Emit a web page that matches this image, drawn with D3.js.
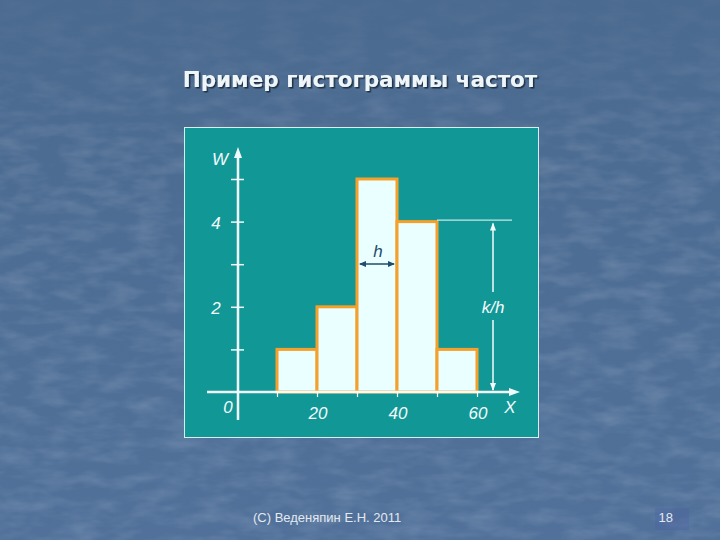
<!DOCTYPE html>
<html>
<head>
  <meta charset="utf-8">
  <script src="https://cdnjs.cloudflare.com/ajax/libs/d3/7.8.5/d3.min.js"></script>
  <title>histogram</title>
  <style>
    body { margin: 0; background: #4d6c91; }
  </style>
</head>
<body>
<script>
// data
var binEdges = [10, 20, 30, 40, 50, 60];
var freqs = [1, 2, 5, 4, 1];
var yTicks = [0, 1, 2, 3, 4, 5];
var yLabels = ["2", "4"];
var xLabels = [20, 40, 60];
var title = "Пример гистограммы частот";
var footer = "(C) Веденяпин Е.Н. 2011";
var pageNo = "18";

var bins = freqs.map(function(f, i) { return {x0: binEdges[i], x1: binEdges[i + 1], w: f}; });

var svg = d3.select("body").append("svg")
  .attr("width", 720).attr("height", 540)
  .style("display", "block");

// background with a bit of texture
var defs = svg.append("defs");
var filt = defs.append("filter").attr("id", "tex").attr("x", 0).attr("y", 0).attr("width", "100%").attr("height", "100%");
filt.append("feTurbulence").attr("type", "fractalNoise").attr("baseFrequency", "0.03 0.08").attr("numOctaves", 3).attr("seed", 4);
filt.append("feColorMatrix").attr("type", "matrix")
  .attr("values", "0 0 0 0 0.85  0 0 0 0 0.9  0 0 0 0 0.97  0 0 0 -1.6 1.0");

var fade = defs.append("linearGradient").attr("id", "fade").attr("x1", 0).attr("y1", 0).attr("x2", 0).attr("y2", 1);
fade.append("stop").attr("offset", "0").attr("stop-color", "#fff").attr("stop-opacity", 0.2);
fade.append("stop").attr("offset", "0.3").attr("stop-color", "#fff").attr("stop-opacity", 1);
defs.append("mask").attr("id", "fm").append("rect").attr("width", 720).attr("height", 540).attr("fill", "url(#fade)");

var shadow = defs.append("filter").attr("id", "sh");
shadow.append("feDropShadow").attr("dx", 1.5).attr("dy", 1.5).attr("stdDeviation", 0.6)
  .attr("flood-color", "#16253a").attr("flood-opacity", 0.9);

var bgGrad = defs.append("linearGradient").attr("id", "bgg").attr("x1", 0).attr("y1", 0).attr("x2", 0).attr("y2", 1);
bgGrad.append("stop").attr("offset", "0").attr("stop-color", "#4b6a8f");
bgGrad.append("stop").attr("offset", "1").attr("stop-color", "#51719a");

svg.append("rect").attr("width", 720).attr("height", 540).attr("fill", "url(#bgg)");
svg.append("rect").attr("width", 720).attr("height", 540).attr("filter", "url(#tex)")
  .attr("opacity", 0.16).attr("mask", "url(#fm)");

// title
svg.append("text").attr("x", 360).attr("y", 87).attr("text-anchor", "middle")
  .attr("font-family", "DejaVu Sans").attr("font-weight", "bold").attr("font-size", 21.5)
  .attr("fill", "#eef6fa").attr("filter", "url(#sh)").text(title);

// panel
svg.append("rect").attr("x", 184.5).attr("y", 127.5).attr("width", 354).attr("height", 310)
  .attr("fill", "#129797").attr("stroke", "#d8eef0").attr("stroke-width", 1);

var x = d3.scaleLinear().domain([0, 60]).range([237, 477]);
var y = d3.scaleLinear().domain([0, 5]).range([392, 179]);

var g = svg.append("g");

// bars
g.selectAll("rect.bar").data(bins).enter().append("rect")
  .attr("class", "bar")
  .attr("x", function(d) { return x(d.x0); })
  .attr("y", function(d) { return y(d.w); })
  .attr("width", function(d) { return x(d.x1) - x(d.x0); })
  .attr("height", function(d) { return y(0) - y(d.w); })
  .attr("fill", "#eaffff")
  .attr("stroke", "#f3a12a")
  .attr("stroke-width", 3);

// axes
var axisCol = "#f2fbfb";
var yAx = g.append("g").attr("transform", "translate(" + (x(0) + 7) + ",0)")
  .call(d3.axisLeft(y).tickValues(yTicks.slice(1)).tickSize(13).tickFormat(""));
yAx.select(".domain").remove();
yAx.selectAll("line").attr("stroke", axisCol).attr("stroke-width", 1.5);

var xAx = g.append("g").attr("transform", "translate(0," + (y(0) - 1) + ")")
  .call(d3.axisBottom(x).tickValues(binEdges).tickSize(6).tickFormat(""));
xAx.select(".domain").remove();
xAx.selectAll("line").attr("stroke", axisCol).attr("stroke-width", 1.2);

g.append("line").attr("x1", 207).attr("x2", 512).attr("y1", y(0)).attr("y2", y(0))
  .attr("stroke", axisCol).attr("stroke-width", 2.5);
g.append("path").attr("d", "M520," + y(0) + "l-11,-4l0,8z").attr("fill", axisCol);

g.append("line").attr("x1", x(0) + 1).attr("x2", x(0) + 1).attr("y1", 420).attr("y2", 156)
  .attr("stroke", axisCol).attr("stroke-width", 2.5);
g.append("path").attr("d", "M" + (x(0) + 1) + ",147l-4,11l8,0z").attr("fill", axisCol);

// labels
var lab = function(tx, px, py, col) {
  return g.append("text").attr("x", px).attr("y", py).attr("text-anchor", "middle")
    .attr("font-family", "Liberation Sans").attr("font-style", "italic").attr("font-size", 17)
    .attr("fill", col || "#f4fbfb").text(tx);
};
lab("W", 220, 165);
lab("0", 228, 413);
yLabels.forEach(function(t) { lab(t, 216, y(+t) + 7); });
xLabels.forEach(function(v) { lab(String(v), x(v) + 1, 419); });
lab("X", 510, 413);

// h dimension
var hy = 264, hc = "#1f4d6e";
g.append("line").attr("x1", x(30) + 3).attr("x2", x(40) - 3).attr("y1", hy).attr("y2", hy)
  .attr("stroke", hc).attr("stroke-width", 1.5);
g.append("path").attr("d", "M" + (x(30) + 2) + "," + hy + "l7,-3l0,6z").attr("fill", hc);
g.append("path").attr("d", "M" + (x(40) - 2) + "," + hy + "l-7,-3l0,6z").attr("fill", hc);
lab("h", (x(30) + x(40)) / 2 + 1, 257, hc);

// k/h dimension
var kx = 493;
g.append("line").attr("x1", x(50)).attr("x2", 512).attr("y1", y(4) - 1.5).attr("y2", y(4) - 1.5)
  .attr("stroke", axisCol).attr("stroke-width", 1);
g.append("line").attr("x1", kx).attr("x2", kx).attr("y1", y(4) + 2).attr("y2", 292)
  .attr("stroke", axisCol).attr("stroke-width", 1.5);
g.append("line").attr("x1", kx).attr("x2", kx).attr("y1", 320).attr("y2", y(0) - 2)
  .attr("stroke", axisCol).attr("stroke-width", 1.5);
g.append("path").attr("d", "M" + kx + "," + (y(4) + 1) + "l-3,8l6,0z").attr("fill", axisCol);
g.append("path").attr("d", "M" + kx + "," + (y(0) - 1) + "l-3,-8l6,0z").attr("fill", axisCol);
lab("k/h", kx, 313);

// footer
svg.append("rect").attr("x", 655).attr("y", 508).attr("width", 34).attr("height", 22)
  .attr("fill", "#4b62a2").attr("opacity", 0.35);
svg.append("text").attr("x", 253).attr("y", 522)
  .attr("font-family", "Liberation Sans").attr("font-size", 13).attr("fill", "#e2e9f0").text(footer);
svg.append("text").attr("x", 673).attr("y", 522).attr("text-anchor", "end")
  .attr("font-family", "Liberation Sans").attr("font-size", 13).attr("fill", "#e2e9f0").text(pageNo);
</script>
</body>
</html>
